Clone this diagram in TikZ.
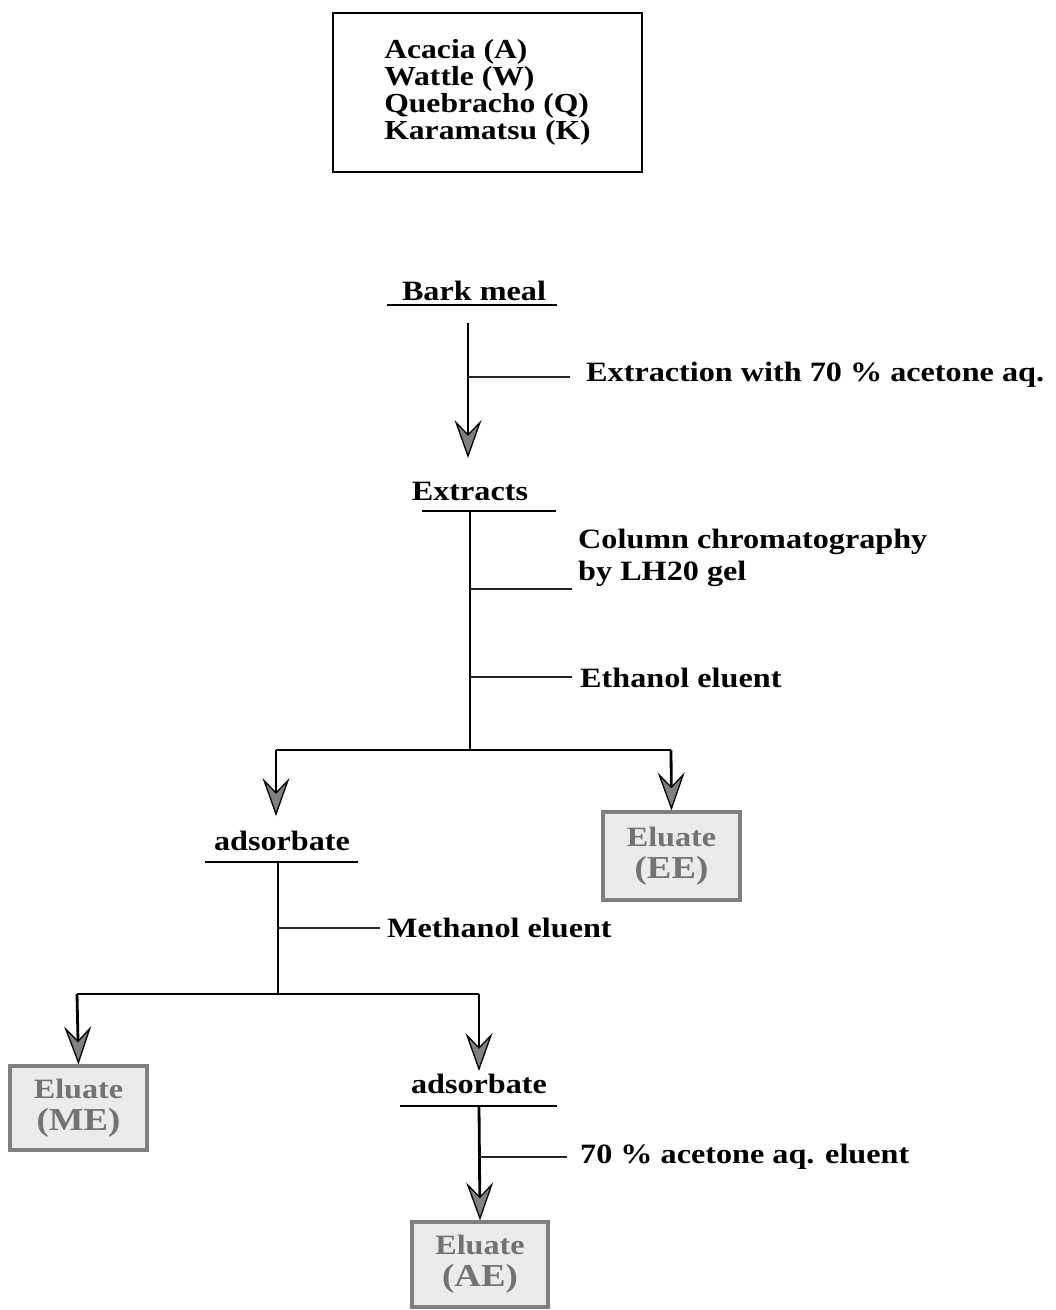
\documentclass[tikz,border=0pt]{standalone}
\usepackage{fontspec}
\setmainfont{Liberation Serif}[FakeStretch=1.15]
\usetikzlibrary{arrows.meta}
\begin{document}
\begin{tikzpicture}[x=1pt,y=-1pt,
  txt/.style={font=\bfseries\fontsize{28}{26.5}\selectfont, inner sep=0pt},
  mainline/.style={line width=2.8pt, black},
  branch/.style={line width=2pt, black!85},
  arr/.style={mainline, -{Stealth[length=38pt,width=27pt,inset=14pt,fill=black!50,line width=1.3pt]}},
  eluate/.style={draw=black!50, line width=3.2pt, fill=black!8, text=black!55,
     font=\bfseries\fontsize{28}{32}\selectfont, align=center, inner sep=0pt},
  uline/.style={line width=2pt, black}
]
\useasboundingbox (0,0) rectangle (1056,1310);

% species box
\node[draw, line width=2.2pt, minimum width=309pt, minimum height=159pt, align=left, inner sep=0pt,
  font=\bfseries\fontsize{27.5}{27}\selectfont]
  (species) at (487.5,92.5) {Acacia (A)\\Wattle (W)\\Quebracho (Q)\\Karamatsu (K)};

% Bark meal
\node[txt, anchor=base] (bark) at (474,300) {Bark meal};
\coordinate (barkL) at (387,305); \coordinate (barkR) at (557,305);
\draw[uline] (barkL) -- (barkR);
\coordinate (b1) at (468,323);
\coordinate (e0) at (468,458);
\draw[arr] (b1) -- (e0);
\coordinate (br1) at (468,377); \coordinate (br1e) at (570,377);
\draw[branch] (br1) -- (br1e);
\node[txt, anchor=base west] (lab1) at (586,381) {Extraction with 70 \% acetone aq.};

% Extracts
\node[txt, anchor=base] (extracts) at (470,500) {Extracts};
\coordinate (exL) at (422,511); \coordinate (exR) at (556,511);
\draw[uline] (exL) -- (exR);
\coordinate (ex1) at (470,511);
\coordinate (split1) at (470,750);
\draw[mainline] (ex1) -- (split1);
\coordinate (br2) at (470,589); \coordinate (br2e) at (572,589);
\draw[branch] (br2) -- (br2e);
\node[txt, anchor=base west, align=left, font=\bfseries\fontsize{28}{32}\selectfont] (lab2) at (578,580) {Column chromatography\\by LH20 gel};
\coordinate (br3) at (470,677); \coordinate (br3e) at (572,677);
\draw[branch] (br3) -- (br3e);
\node[txt, anchor=base west] (lab3) at (580,687) {Ethanol eluent};

% split 1
\coordinate (s1L) at (276,750); \coordinate (s1R) at (671,750);
\draw[mainline] (s1L) -- (s1R);
\node[eluate, minimum width=137pt, minimum height=88pt] (EE) at (671.5,856) {Eluate\\{\fontsize{32}{32}\selectfont (EE)}};
\coordinate (ads1tip) at (276,816);
\draw[arr] (s1L) -- (ads1tip);
\draw[arr] (s1R) -- (EE.north);

% adsorbate 1
\node[txt, anchor=base] (ads1) at (282,850) {adsorbate};
\coordinate (a1L) at (205,862); \coordinate (a1R) at (358,862);
\draw[uline] (a1L) -- (a1R);
\coordinate (a1) at (278,862); \coordinate (split2) at (278,994);
\draw[mainline] (a1) -- (split2);
\coordinate (br4) at (278,928); \coordinate (br4e) at (380,928);
\draw[branch] (br4) -- (br4e);
\node[txt, anchor=base west] (lab4) at (387,937) {Methanol eluent};

% split 2
\coordinate (s2L) at (77,994); \coordinate (s2R) at (479,994);
\draw[mainline] (s2L) -- (s2R);
\node[eluate, minimum width=137pt, minimum height=84pt] (ME) at (78.5,1108) {Eluate\\{\fontsize{32}{32}\selectfont (ME)}};
\draw[arr] (s2L) -- (ME.north);
\coordinate (ads2tip) at (479,1071);
\draw[arr] (s2R) -- (ads2tip);

% adsorbate 2
\node[txt, anchor=base] (ads2) at (479,1093) {adsorbate};
\coordinate (a2L) at (400,1106); \coordinate (a2R) at (557,1106);
\draw[uline] (a2L) -- (a2R);
\node[eluate, minimum width=136pt, minimum height=85pt] (AE) at (480,1264.5) {Eluate\\{\fontsize{32}{32}\selectfont (AE)}};
\coordinate (a2) at (479,1106);
\draw[arr] (a2) -- (AE.north);
\coordinate (br5) at (479,1157); \coordinate (br5e) at (567,1157);
\draw[branch] (br5) -- (br5e);
\node[txt, anchor=base west] (lab5) at (580,1163) {70 \% acetone aq. eluent};
\end{tikzpicture}
\end{document}
